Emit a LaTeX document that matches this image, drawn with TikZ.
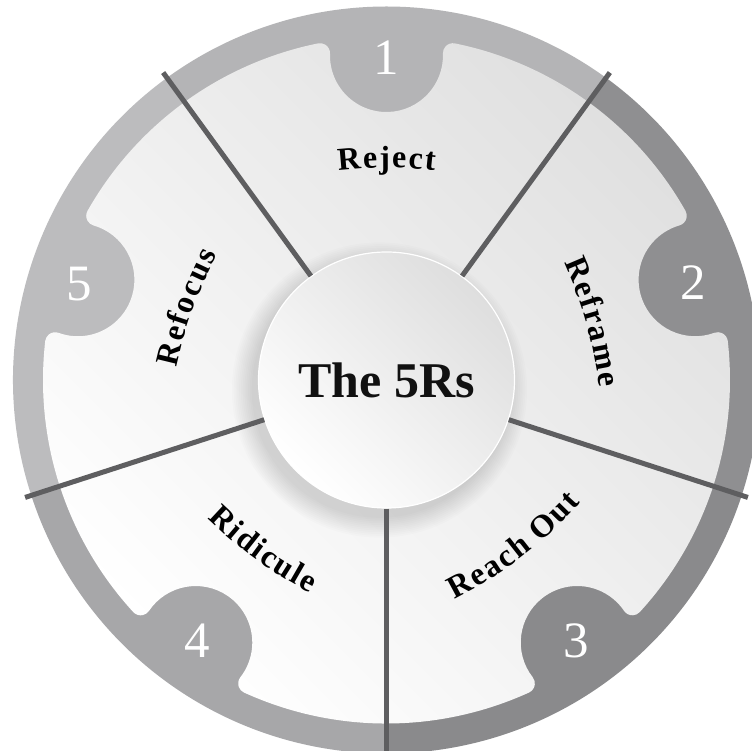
\documentclass[tikz,border=0pt]{standalone}
\usepackage{fontspec}
\setmainfont{Liberation Serif}
\usetikzlibrary{decorations.text,calc}
\definecolor{ringA}{HTML}{B4B4B6}
\definecolor{ringB}{HTML}{8F8F91}
\definecolor{ringC}{HTML}{8A8A8C}
\definecolor{ringD}{HTML}{A7A7A9}
\definecolor{ringE}{HTML}{BCBCBE}
\definecolor{divider}{HTML}{5E5E60}
\definecolor{segDark}{HTML}{E0E0E0}
\definecolor{hubDark}{HTML}{DEDEDE}
\definecolor{ink}{HTML}{111111}
\newcommand\lblfont{\bfseries\fontsize{32}{32}\selectfont}
\newcommand\ks{\kern1.9pt}
\tikzset{
  numtext/.style={text=white, font=\fontsize{51}{51}\selectfont, inner sep=0pt},
  hubstyle/.style={circle, minimum size=256pt, inner sep=0pt, shade, top color=hubDark, bottom color=white, shading angle=-45, draw=white, line width=1.2pt, text=ink, font=\bfseries\fontsize{50}{50}\selectfont},
  divline/.style={draw=divider, line width=5pt},
  arclabel/.style={decorate, decoration={text along path, text align=center, text={#1}}},
}
\begin{document}
\begin{tikzpicture}[x=1pt,y=1pt]
\useasboundingbox (-386.5,-371) rectangle (365.5,380);
\clip (-386.5,-371) rectangle (365.5,380);
\fill[white] (-386.5,-371) rectangle (365.5,380);
% ring wedges and tabs
\foreach \a/\c in {90/ringA, 18/ringB, -54/ringC, -126/ringD, 162/ringE}
  \fill[\c] (0,0) -- ({\a-36}:373.5) arc[start angle={\a-36}, end angle={\a+36}, radius=373.5] -- cycle;
% light segments
\shade[top color=segDark, bottom color=white, shading angle=-45]
  foreach \r in {0,-72,-144,-216,-288} {
    (0,0) -- ({\r+54}:343.5)
    arc[start angle={\r+54}, end angle={\r+78.51}, radius=343.5]
    arc[start angle={\r+78.51}, end angle={\r+181.99}, radius=10]
    arc[start angle={\r+1.99}, end angle={\r-181.99}, radius=56.5]
    arc[start angle={\r-1.99}, end angle={\r+101.49}, radius=10]
    arc[start angle={\r+101.49}, end angle={\r+126}, radius=343.5]
    -- cycle };
% soft shadow of hub
\foreach \k in {1,...,12}
  \fill[black, opacity=0.011] (-7,-10) circle ({126+\k*1.8});
% hub
\node[hubstyle] (hub) at (0,0) {The 5Rs};
% dividers
\foreach \a/\n in {270/d1, 342/d2, 54/d3, 126/d4, 198/d5} {
  \coordinate (\n) at (\a:380);
  \draw[divline] (hub.\a) -- (\n);
}
% numbers
\node[numtext] (n1) at (90:322) {1};
\node[numtext] (n2) at (17.6:322) {2};
\node[numtext] (n3) at (-54:322) {3};
\node[numtext] (n4) at (-126:322) {4};
\node[numtext] (n5) at (162.6:322) {5};
% labels, tops outward (clockwise)
\begin{scope}[shift={(90:-208)}]
  \path[arclabel={|\lblfont|{R\ks}{e\ks}{j\ks}{e\ks}{c\ks}{t}}] (112:420) arc[start angle=112, end angle=68, radius=420];
\end{scope}
\begin{scope}[shift={(15.8:-212)}]
  \path[arclabel={|\lblfont|{R\ks}{e\ks}{f\ks}{r\ks}{a\ks}{m\ks}{e}}] (37.8:420) arc[start angle=37.8, end angle=-6.2, radius=420];
\end{scope}
\begin{scope}[shift={(160:-214)}]
  \path[arclabel={|\lblfont|{R\ks}{e\ks}{f\ks}{o\ks}{c\ks}{u\ks}{s}}] (182:420) arc[start angle=182, end angle=138, radius=420];
\end{scope}
% labels, tops inward (counterclockwise)
\begin{scope}[shift={(-52.5:-197)}]
  \path[arclabel={|\lblfont|{R\ks}{e\ks}{a\ks}{c\ks}{h\ks}{\ }{O\ks}{u\ks}{t}}] (-74.5:420) arc[start angle=-74.5, end angle=-30.5, radius=420];
\end{scope}
\begin{scope}[shift={(-126:-198)}]
  \path[arclabel={|\lblfont|{R\ks}{i\ks}{d\ks}{i\ks}{c\ks}{u\ks}{l\ks}{e}}] (-148:420) arc[start angle=-148, end angle=-104, radius=420];
\end{scope}
\end{tikzpicture}
\end{document}
